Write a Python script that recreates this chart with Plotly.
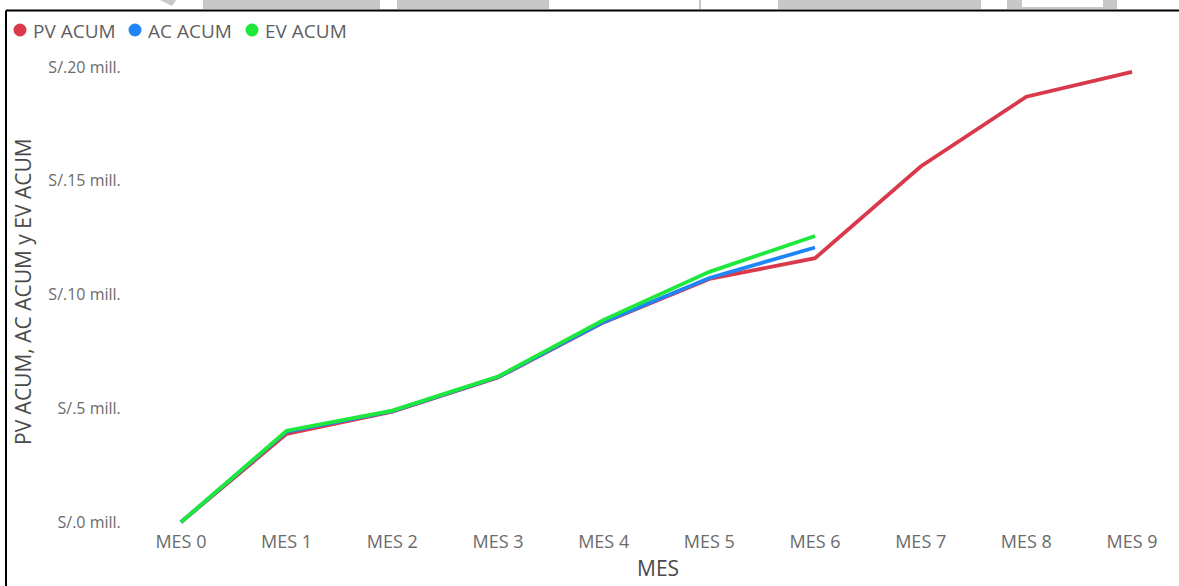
import plotly.graph_objects as go

# Monthly cumulative values (millions of soles)
meses = ["MES 0", "MES 1", "MES 2", "MES 3", "MES 4", "MES 5", "MES 6", "MES 7", "MES 8", "MES 9"]
pv_acum = [0.0, 3.88, 4.86, 6.36, 8.78, 10.69, 11.60, 15.63, 18.70, 19.79]
ac_acum = [0.0, 3.98, 4.88, 6.38, 8.80, 10.73, 12.07]
ev_acum = [0.0, 4.02, 4.90, 6.40, 8.89, 11.00, 12.58]

y_ticks = [0, 5, 10, 15, 20]
y_ticktext = ["S/.0 mill.", "S/.5 mill.", "S/.10 mill.", "S/.15 mill.", "S/.20 mill."]

series = [
    ("PV ACUM", pv_acum, "#d9394b"),
    ("AC ACUM", ac_acum, "#1f86f7"),
    ("EV ACUM", ev_acum, "#1fe83d"),
]

W, H = 1179, 586
ML, MR, MT, MB = 145, 11, 58, 57
PW, PH = W - ML - MR, H - MT - MB


def px_x(px):
    return (px - ML) / PW


def px_y(py):
    return (H - MB - py) / PH


fig = go.Figure()

for name, vals, color in series:
    fig.add_trace(go.Scatter(
        x=meses[:len(vals)], y=vals, mode="lines", name=name,
        line=dict(color=color, width=3.8), showlegend=False,
        hovertemplate="%{x}: %{y:.2f} mill.<extra>" + name + "</extra>",
    ))

shapes = []
annotations = []

# compact legend: coloured dot followed by the series name
legend_x = [20, 135, 252]
legend_y = 30
for (name, _, color), cx in zip(series, legend_x):
    r = 6.5
    shapes.append(dict(type="circle", xref="paper", yref="paper",
                       x0=px_x(cx - r), x1=px_x(cx + r),
                       y0=px_y(legend_y + r), y1=px_y(legend_y - r),
                       fillcolor=color, line=dict(width=0)))
    annotations.append(dict(text=name, xref="paper", yref="paper",
                            x=px_x(cx + 11), y=px_y(legend_y + 1),
                            xanchor="left", yanchor="middle", showarrow=False,
                            font=dict(size=19, color="#606060")))

# frame around the visual
shapes.append(dict(type="line", xref="paper", yref="paper",
                   x0=px_x(6), x1=px_x(W + 5), y0=px_y(10.5), y1=px_y(10.5),
                   line=dict(color="black", width=2)))
shapes.append(dict(type="line", xref="paper", yref="paper",
                   x0=px_x(6), x1=px_x(6), y0=px_y(10.5), y1=px_y(H + 5),
                   line=dict(color="black", width=2)))
# grey page elements above the frame
for x0, x1 in [(203, 380), (397, 549), (778, 981), (1007, 1117)]:
    shapes.append(dict(type="rect", xref="paper", yref="paper",
                       x0=px_x(x0), x1=px_x(x1), y0=px_y(9), y1=px_y(-2),
                       fillcolor="#c8c8c8", line=dict(width=0), layer="above"))
shapes.append(dict(type="rect", xref="paper", yref="paper",
                   x0=px_x(1022), x1=px_x(1103), y0=px_y(7), y1=px_y(-2),
                   fillcolor="white", line=dict(width=0), layer="above"))
shapes.append(dict(type="rect", xref="paper", yref="paper",
                   x0=px_x(699), x1=px_x(701), y0=px_y(9), y1=px_y(-2),
                   fillcolor="#c8c8c8", line=dict(width=0), layer="above"))
shapes.append(dict(type="path", xref="paper", yref="paper",
                   path="M {} {} L {} {} L {} {} Z".format(
                       px_x(158), px_y(-1), px_x(177), px_y(-1), px_x(172), px_y(6)),
                   fillcolor="#c8c8c8", line=dict(width=0), layer="above"))

annotations += [
    dict(text="MES", xref="paper", yref="paper", x=px_x(658), y=px_y(568),
         xanchor="center", yanchor="middle", showarrow=False,
         font=dict(size=21, color="#4a4a4a")),
    dict(text="PV ACUM, AC ACUM y EV ACUM", xref="paper", yref="paper",
         x=px_x(23), y=px_y(292), xanchor="center", yanchor="middle",
         textangle=-90, showarrow=False,
         font=dict(size=21, color="#4a4a4a")),
]

fig.update_layout(
    width=W, height=H,
    margin=dict(l=ML, r=MR, t=MT, b=MB, autoexpand=False),
    paper_bgcolor="white", plot_bgcolor="white",
    font=dict(family="Open Sans, Segoe UI, sans-serif", color="#6b6b6b", size=17),
    showlegend=False,
    xaxis=dict(
        type="category", range=[-0.34, 9.34], showgrid=False, zeroline=False,
        showline=False, ticks="", tickfont=dict(size=18, color="#6b6b6b"),
        automargin=False,
    ),
    yaxis=dict(
        range=[-0.3, 20.4], tickvals=y_ticks, ticktext=y_ticktext,
        showgrid=False, zeroline=False, showline=False,
        ticks="outside", ticklen=20, tickcolor="rgba(0,0,0,0)",
        tickfont=dict(size=16, color="#6b6b6b"),
        automargin=False,
    ),
    shapes=shapes,
    annotations=annotations,
)

fig.write_html("out.html")
